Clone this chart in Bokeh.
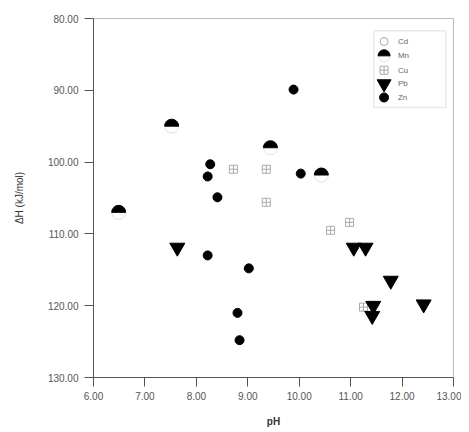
from math import pi
from bokeh.plotting import figure
from bokeh.models import Range1d, FixedTicker, NumeralTickFormatter, BoxAnnotation, Label
from bokeh.embed import file_html
from bokeh.resources import INLINE

# ---- data ----
cd_x, cd_y = [], []
mn_x = [6.49, 7.52, 9.44, 10.43]
mn_y = [107.0, 95.0, 98.0, 101.8]
cu_x = [8.72, 9.36, 9.36, 10.61, 10.98, 11.25]
cu_y = [101.0, 101.0, 105.6, 109.5, 108.4, 120.2]
pb_x = [7.63, 11.06, 11.29, 11.78, 11.44, 11.42, 12.42]
pb_y = [111.9, 111.9, 111.9, 116.5, 120.0, 121.4, 119.8]
zn_x = [9.89, 8.27, 8.22, 8.41, 10.03, 8.22, 9.02, 8.80, 8.84]
zn_y = [89.9, 100.3, 102.0, 104.9, 101.6, 113.0, 114.8, 121.0, 124.8]

series_names = ["Cd", "Mn", "Cu", "Pb", "Zn"]
x_ticks = [6, 7, 8, 9, 10, 11, 12, 13]
y_ticks = [80, 90, 100, 110, 120, 130]

FONT = "Liberation Sans"

p = figure(width=461, height=430, output_backend="svg", toolbar_location=None,
           x_range=Range1d(6, 13), y_range=Range1d(130, 80),
           min_border_left=93, min_border_right=8, min_border_top=18, min_border_bottom=53)
p.grid.visible = False
p.outline_line_color = "#bbbbbb"
p.background_fill_color = "white"

for ax in (p.xaxis[0], p.yaxis[0]):
    ax.axis_line_color = "#555555"
    ax.major_tick_line_color = "#555555"
    ax.minor_tick_line_color = None
    ax.major_tick_out = 9
    ax.major_tick_in = 0
    ax.major_label_text_font = FONT
    ax.major_label_text_font_size = "10px"
    ax.major_label_text_color = "#555555"
    ax.formatter = NumeralTickFormatter(format="0.00")
    ax.axis_label_text_font = FONT
    ax.axis_label_text_color = "#333333"

p.yaxis.major_label_standoff = 6
p.xaxis.major_label_standoff = 5
p.xaxis.ticker = FixedTicker(ticks=x_ticks)
p.yaxis.ticker = FixedTicker(ticks=y_ticks)
p.xaxis.axis_label = "pH"
p.xaxis.axis_label_text_font_size = "10px"
p.xaxis.axis_label_text_font_style = "bold"
p.xaxis.axis_label_standoff = 13
p.yaxis.axis_label = "ΔH (kJ/mol)"
p.yaxis.axis_label_text_font_size = "10px"
p.yaxis.axis_label_text_font_style = "normal"
p.yaxis.axis_label_standoff = 20

# ---- marks ----
p.scatter(cd_x, cd_y, marker="circle", size=10, fill_color="white", line_color="#aaaaaa")
p.scatter(mn_x, mn_y, marker="circle", size=14, fill_color=None, line_color="#e0e0e0")
p.wedge(mn_x, mn_y, radius=7, radius_units="screen", start_angle=0, end_angle=pi,
        fill_color="black", line_color="black")
p.scatter(cu_x, cu_y, marker="square_cross", size=8, fill_color="white", line_color="#aaaaaa")
p.scatter(pb_x, pb_y, marker="inverted_triangle", size=15, fill_color="black", line_color="black")
p.scatter(zn_x, zn_y, marker="circle", size=9, fill_color="black", line_color="black")

# ---- manual legend (layout positions in data space) ----
LEG_LEFT, LEG_RIGHT, LEG_TOP, LEG_BOTTOM = 11.45, 12.85, 81.7, 92.4
LEG_MX, LEG_TX = 11.65, 11.92
LEG_ROWS = [83.2, 85.2, 87.2, 89.1, 91.0]
p.add_layout(BoxAnnotation(left=LEG_LEFT, right=LEG_RIGHT, top=LEG_TOP, bottom=LEG_BOTTOM,
                           fill_color="white", fill_alpha=1, line_color="#bbbbbb", line_width=1.5,
                           level="underlay"))
p.scatter([LEG_MX], [LEG_ROWS[0]], marker="circle", size=8, fill_color="white", line_color="#aaaaaa")
p.scatter([LEG_MX], [LEG_ROWS[1]], marker="circle", size=12, fill_color=None, line_color="#e0e0e0")
p.wedge([LEG_MX], [LEG_ROWS[1]], radius=6, radius_units="screen", start_angle=0, end_angle=pi,
        fill_color="black", line_color="black")
p.scatter([LEG_MX], [LEG_ROWS[2]], marker="square_cross", size=8, fill_color="white", line_color="#aaaaaa")
p.scatter([LEG_MX], [LEG_ROWS[3]], marker="inverted_triangle", size=14, fill_color="black", line_color="black")
p.scatter([LEG_MX], [LEG_ROWS[4]], marker="circle", size=9, fill_color="black", line_color="black")
for name, yy in zip(series_names, LEG_ROWS):
    p.add_layout(Label(x=LEG_TX, y=yy, text=name, text_font=FONT, text_font_size="8px",
                       text_color="#666666", text_baseline="middle"))

open("out.html", "w").write(file_html(p, INLINE))
